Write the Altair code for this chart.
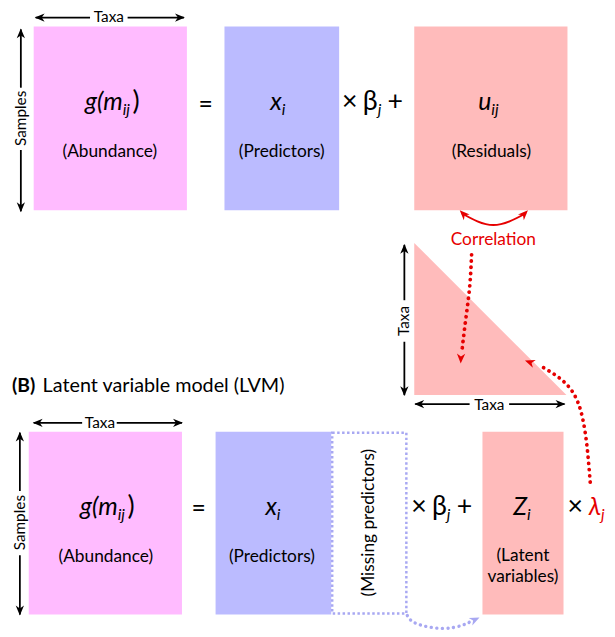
import altair as alt
import pandas as pd

FONT = "Lato, 'Open Sans', 'DejaVu Sans', sans-serif"
PINK, LAV, SALMON = "#FFBBFF", "#BBBBFF", "#FFBBBB"
RED, DOTBLUE, BLACK = "#E60000", "#A8A8F2", "#000000"

# ---- boxes (matrices) ----
box_x0 = [34, 227, 419, 29, 218, 488]
box_x1 = [189, 343, 574, 184, 335, 570]
box_y0 = [23, 23, 23, 433, 433, 433]
box_y1 = [209, 209, 209, 618, 618, 618]
box_fill = [PINK, LAV, SALMON, PINK, LAV, SALMON]

missing_x0, missing_x1, missing_y0, missing_y1 = [336], [411], [434], [617]

# ---- correlation triangle ----
tri_x = [419, 573]
tri_top = [242, 396]
tri_base = [396, 396]

# ---- black double-headed arrows (segments) ----
seg_id = ["a1", "a1", "a2", "a2", "s1", "s1", "s2", "s2",
          "t1", "t1", "t2", "t2", "h1", "h1", "h2", "h2",
          "b1", "b1", "b2", "b2", "c1", "c1", "c2", "c2"]
seg_x = [36, 91, 129, 186, 21, 21, 21, 21,
         409, 409, 409, 409, 420, 475, 515, 571,
         34, 83, 118, 184, 20, 20, 20, 20]
seg_y = [14, 14, 14, 14, 26, 85, 148, 210,
         244, 300, 342, 396, 405, 405, 405, 405,
         424, 424, 424, 424, 434, 493, 558, 618]
seg_ord = [0, 1] * 12

# ---- curves ----
arc_x = [467, 499, 532]
arc_y = [212, 224, 212]

red1_x = [477, 475, 471, 467]
red1_y = [254, 287, 320, 353]
red2_x = [597, 594, 589, 580, 565, 546]
red2_y = [484, 450, 418, 394, 378, 366]
blue_x = [412, 421, 446, 467, 478]
blue_y = [619, 627, 632, 629, 624]

# ---- arrow heads ----
head_x = [35, 187, 21, 21, 409, 409, 419, 572, 33, 185, 20, 20,
          465, 534, 466, 531, 485]
head_y = [14, 14, 25, 211, 243, 397, 405, 405, 424, 424, 433, 619,
          209, 209, 364, 361, 621]
head_ang = [270, 90, 0, 180, 0, 180, 270, 90, 270, 90, 0, 180,
            315, 45, 182, 290, 65]
head_col = [BLACK] * 12 + [RED, RED, RED, RED, DOTBLUE]

# ---- labels (centered) ----
lab_txt = ["Taxa", "Samples", "(Abundance)", "(Predictors)", "(Residuals)", "=",
           "Correlation", "Taxa", "Taxa",
           "Taxa", "Samples", "(Abundance)", "(Predictors)", "=",
           "(Missing predictors)", "(Latent", "variables)"]
lab_x = [110, 21, 111, 285, 497, 208,
         499, 409, 495,
         101, 20, 107, 275, 201,
         373, 529, 529]
lab_y = [14, 116, 150, 150, 150, 103,
         239, 321, 406,
         424, 525, 560, 560, 511,
         525, 559, 580]
lab_size = [15.5, 15.5, 17.5, 17.5, 17.5, 25,
            17.5, 15.5, 15.5,
            15.5, 15.5, 17.5, 17.5, 25,
            17.5, 17.5, 17.5]
lab_ang = [0, 270, 0, 0, 0, 0,
           0, 270, 0,
           0, 270, 0, 0, 0,
           270, 0, 0]
lab_col = [BLACK] * 6 + [RED] + [BLACK] * 10

# ---- math: italic main symbols (right aligned at x) ----
mi_txt = ["g(m", "x", "u", "g(m", "x", "Z", "λ"]
mi_x = [124, 285, 497, 119, 280, 533, 608]
mi_y = [108, 108, 108, 517, 517, 517, 517]
mi_col = [BLACK] * 6 + [RED]

# ---- math: italic subscripts (left aligned at x) ----
sub_txt = ["ij", "i", "j", "ij", "ij", "i", "j", "i", "j"]
sub_x = [124, 285, 382, 497, 119, 280, 452, 533, 608]
sub_y = [113, 113, 113, 113, 522, 522, 522, 522, 522]
sub_col = [BLACK] * 8 + [RED]

# ---- math: upright pieces ----
up_r_txt = ["β", "β"]          # right aligned
up_r_x = [382, 452]
up_r_y = [108, 517]
up_l_txt = [")", "×", "+", ")", "×", "+", "×"]  # left aligned
up_l_x = [134, 346, 392, 129, 416, 462, 574]
up_l_y = [108, 108, 108, 517, 517, 517, 517]

# ---- title ----
title_bold = "(B)"
title_rest = "Latent variable model (LVM)"
title_x = [12, 43]
title_y = 393

# ================= chart =================
XS = alt.Scale(domain=[8, 614], nice=False, zero=False)
YS = alt.Scale(domain=[8, 632], nice=False, zero=False, reverse=True)


def X(f="x"):
    return alt.X(f"{f}:Q", scale=XS, axis=None)


def Y(f="y"):
    return alt.Y(f"{f}:Q", scale=YS, axis=None)


boxes = alt.Chart(pd.DataFrame(dict(x0=box_x0, x1=box_x1, y0=box_y0, y1=box_y1, c=box_fill))).mark_rect().encode(
    x=X("x0"), x2="x1", y=Y("y0"), y2="y1", color=alt.Color("c:N", scale=None))

missing = alt.Chart(pd.DataFrame(dict(x0=missing_x0, x1=missing_x1, y0=missing_y0, y1=missing_y1))).mark_rect(
    fill="white", fillOpacity=0, stroke=DOTBLUE, strokeWidth=2.5, strokeDash=[2.5, 2.5]).encode(
    x=X("x0"), x2="x1", y=Y("y0"), y2="y1")

tri = alt.Chart(pd.DataFrame(dict(x=tri_x, y=tri_top, y2=tri_base))).mark_area(
    color=SALMON, orient="vertical", opacity=1).encode(x=X(), y=Y(), y2="y2")

segs = alt.Chart(pd.DataFrame(dict(s=seg_id, x=seg_x, y=seg_y, o=seg_ord))).mark_line(
    color=BLACK, strokeWidth=1.8).encode(x=X(), y=Y(), detail="s:N", order="o:Q")

arc = alt.Chart(pd.DataFrame(dict(x=arc_x, y=arc_y, o=range(len(arc_x))))).mark_line(
    color=RED, strokeWidth=2, interpolate="natural").encode(x=X(), y=Y(), order="o:Q")

red_df = pd.DataFrame(dict(
    s=["r1"] * len(red1_x) + ["r2"] * len(red2_x),
    x=red1_x + red2_x, y=red1_y + red2_y,
    o=list(range(len(red1_x))) + list(range(len(red2_x)))))
reddots = alt.Chart(red_df).mark_line(
    color=RED, strokeWidth=3.8, strokeDash=[0.1, 6.2], strokeCap="round", interpolate="natural").encode(
    x=X(), y=Y(), detail="s:N", order="o:Q")

bluedots = alt.Chart(pd.DataFrame(dict(x=blue_x, y=blue_y, o=range(len(blue_x))))).mark_line(
    color=DOTBLUE, strokeWidth=3.4, strokeDash=[0.1, 5.5], strokeCap="round", interpolate="natural").encode(
    x=X(), y=Y(), order="o:Q")

ARROW = "M0,0 L1,2.4 L0,1.7 L-1,2.4 Z"
heads = alt.Chart(pd.DataFrame(dict(x=head_x, y=head_y, a=head_ang, c=head_col))).mark_point(
    shape=ARROW, filled=True, size=70, opacity=1, strokeWidth=0).encode(
    x=X(), y=Y(), angle=alt.Angle("a:Q", scale=None), color=alt.Color("c:N", scale=None))

labels = alt.Chart(pd.DataFrame(dict(t=lab_txt, x=lab_x, y=lab_y, s=lab_size, a=lab_ang, c=lab_col))).mark_text(
    font=FONT, align="center", baseline="middle").encode(
    x=X(), y=Y(), text="t:N", size=alt.Size("s:Q", scale=None),
    angle=alt.Angle("a:Q", scale=None), color=alt.Color("c:N", scale=None))

math_main = alt.Chart(pd.DataFrame(dict(t=mi_txt, x=mi_x, y=mi_y, c=mi_col))).mark_text(
    font=FONT, fontStyle="italic", fontSize=25, align="right", baseline="alphabetic").encode(
    x=X(), y=Y(), text="t:N", color=alt.Color("c:N", scale=None))

math_sub = alt.Chart(pd.DataFrame(dict(t=sub_txt, x=sub_x, y=sub_y, c=sub_col))).mark_text(
    font=FONT, fontStyle="italic", fontSize=16, align="left", baseline="alphabetic").encode(
    x=X(), y=Y(), text="t:N", color=alt.Color("c:N", scale=None))

up_right = alt.Chart(pd.DataFrame(dict(t=up_r_txt, x=up_r_x, y=up_r_y))).mark_text(
    font=FONT, fontSize=27, align="right", baseline="alphabetic", color=BLACK).encode(
    x=X(), y=Y(), text="t:N")

up_left = alt.Chart(pd.DataFrame(dict(t=up_l_txt, x=up_l_x, y=up_l_y))).mark_text(
    font=FONT, fontSize=27, align="left", baseline="alphabetic", color=BLACK).encode(
    x=X(), y=Y(), text="t:N")

title_b = alt.Chart(pd.DataFrame(dict(t=[title_bold], x=[title_x[0]], y=[title_y]))).mark_text(
    font=FONT, fontSize=19.5, fontWeight="bold", align="left", baseline="alphabetic", color=BLACK).encode(
    x=X(), y=Y(), text="t:N")
title_r = alt.Chart(pd.DataFrame(dict(t=[title_rest], x=[title_x[1]], y=[title_y]))).mark_text(
    font=FONT, fontSize=20, align="left", baseline="alphabetic", color=BLACK).encode(
    x=X(), y=Y(), text="t:N")

chart = alt.layer(
    boxes, missing, tri, segs, arc, reddots, bluedots, heads,
    labels, math_main, math_sub, up_right, up_left, title_b, title_r
).properties(
    width=606, height=624, padding=0,
    autosize=alt.AutoSizeParams(type="none"),
    background="white",
).configure_view(stroke=None)

chart.save("out.html", embed_options={"renderer": "svg", "actions": False})
